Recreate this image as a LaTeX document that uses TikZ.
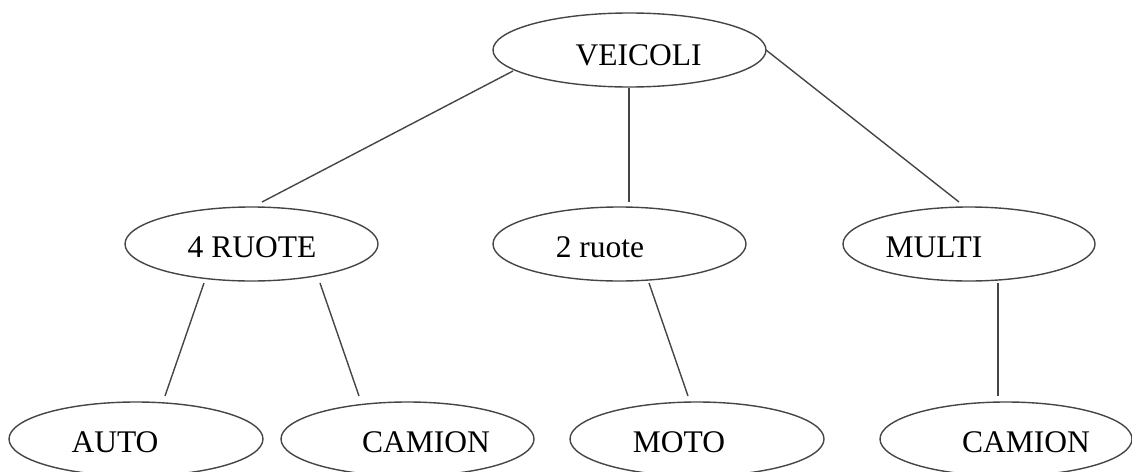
\documentclass[tikz,border=0pt]{standalone}
\usepackage{fontspec}
\setmainfont{Liberation Serif}
\usetikzlibrary{shapes.geometric}
\definecolor{edgegray}{HTML}{454545}
\tikzset{
  oval/.style={draw=edgegray, line width=1.4pt, ellipse, inner sep=0pt,
               minimum height=74pt},
  word/.style={anchor=base, inner sep=0pt, font=\fontsize{31.5}{36}\selectfont},
  link/.style={draw=edgegray, line width=1.4pt},
}
\begin{document}
\begin{tikzpicture}[x=1pt,y=-1pt]
\useasboundingbox (0,0) rectangle (1132,471);

% ellipses
\node[oval, minimum width=273pt] (veicoli) at (629.5,50) {};
\node[oval, minimum width=253pt] (quattro) at (251.5,244) {};
\node[oval, minimum width=253pt] (due)     at (619.5,244) {};
\node[oval, minimum width=252pt] (multi)   at (969,244) {};
\node[oval, minimum width=254pt] (auto)    at (136,439) {};
\node[oval, minimum width=253pt] (camionA) at (407.5,439) {};
\node[oval, minimum width=254pt] (moto)    at (697,439) {};
\node[oval, minimum width=252pt] (camionB) at (1006,439) {};

% labels
\node[word] (tveicoli) at (638.5,65) {VEICOLI};
\node[word] (tquattro) at (252,257) {4 RUOTE};
\node[word] (tdue)     at (600,257) {2 ruote};
\node[word] (tmulti)   at (934,257) {MULTI};
\node[word] (tauto)    at (115,452) {AUTO};
\node[word] (tcamionA) at (426,452) {CAMION};
\node[word] (tmoto)    at (679,452) {MOTO};
\node[word] (tcamionB) at (1026,452) {CAMION};

% connector end points
\coordinate (v1) at (513,71);
\coordinate (v2) at (629,88);
\coordinate (v3) at (766,50);
\coordinate (q0) at (262,202);
\coordinate (d0) at (629,202);
\coordinate (m0) at (959,202);
\coordinate (q1) at (204,283);
\coordinate (q2) at (320,283);
\coordinate (d1) at (649,283);
\coordinate (m1) at (998,283);
\coordinate (a0) at (165,396);
\coordinate (c0) at (359,396);
\coordinate (o0) at (688,396);
\coordinate (b0) at (998,396);

% connectors
\draw[link] (v1) -- (q0);
\draw[link] (v2) -- (d0);
\draw[link] (v3) -- (m0);
\draw[link] (q1) -- (a0);
\draw[link] (q2) -- (c0);
\draw[link] (d1) -- (o0);
\draw[link] (m1) -- (b0);
\end{tikzpicture}
\end{document}
